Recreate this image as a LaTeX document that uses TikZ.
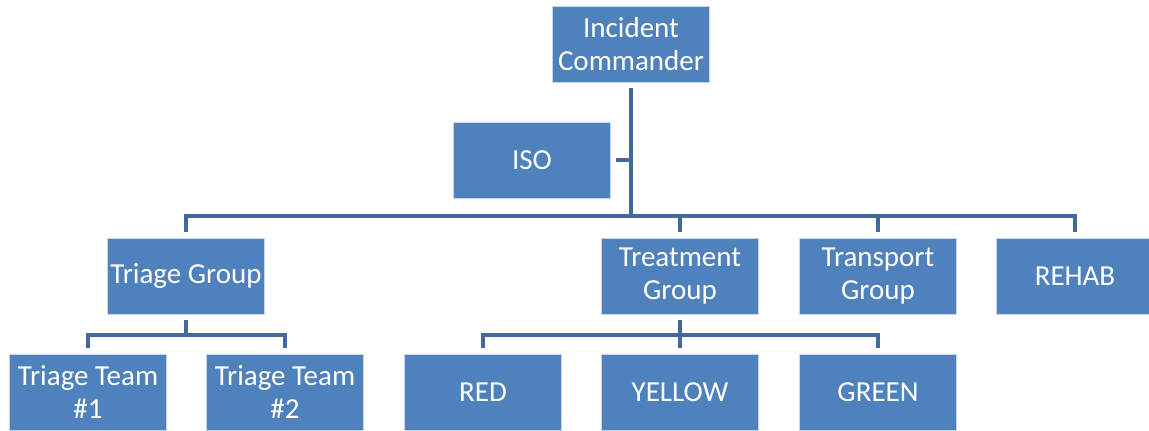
\documentclass[tikz,border=0pt]{standalone}
\usepackage{fontspec}
\setmainfont{Carlito}
\usepackage{tikz}
\usetikzlibrary{positioning, calc}
\definecolor{boxblue}{HTML}{4F81BD}
\definecolor{lineblue}{HTML}{41699B}
\definecolor{edgeblue}{HTML}{C9D7EA}

\begin{document}
\begin{tikzpicture}[x=0.02cm, y=-0.02cm, font=\fontsize{16.5}{18.3}\selectfont,
    unit/.style={draw=edgeblue, line width=0.4pt, fill=boxblue, text=white,
        minimum width=3.14cm, minimum height=1.52cm, align=center, inner sep=1pt},
    link/.style={draw=lineblue, line width=2.8pt}]
        \useasboundingbox (0,0) rectangle (1149,430);

        % Command
        \node[unit] (ic) at (631,44) {Incident\\Commander};
        \node[unit] (iso) at (532,160) {ISO};

        % Groups
        \node[unit] (tri) at (186,276) {Triage Group};
        \node[unit] (treat) at (680,276) {Treatment\\Group};
        \node[unit] (trans) at (878,276) {Transport\\Group};
        \node[unit] (rehab) at (1075,276) {REHAB};

        % Teams and areas
        \node[unit] (tt1) at (88,392) {Triage Team\\\#1};
        \node[unit] (tt2) at (285,392) {Triage Team\\\#2};
        \node[unit] (red) at (483,392) {RED};
        \node[unit] (yellow) at (680,392) {YELLOW};
        \node[unit] (green) at (878,392) {GREEN};

        % Bus lines
        \coordinate (bus) at (631,216);
        \coordinate (tribus) at (186,335);
        \coordinate (treatbus) at (680,335);

        % Connectors
        \draw[link] ([yshift=-0.12cm]ic.south) -- (ic.south |- bus);
        \draw[link] ([xshift=0.1cm]iso.east) -- (iso.east -| bus);
        \draw[link] ([yshift=0.12cm]tri.north) |- (rehab.north |- bus) -- ([yshift=0.12cm]rehab.north);
        \draw[link] (treat.north |- bus) -- ([yshift=0.12cm]treat.north);
        \draw[link] (trans.north |- bus) -- ([yshift=0.12cm]trans.north);

        \draw[link] ([yshift=-0.12cm]tri.south) -- (tribus);
        \draw[link] ([yshift=0.12cm]tt1.north) |- (tt2.north |- tribus) -- ([yshift=0.12cm]tt2.north);

        \draw[link] ([yshift=-0.12cm]treat.south) -- (treatbus);
        \draw[link] ([yshift=0.12cm]red.north) |- (green.north |- treatbus) -- ([yshift=0.12cm]green.north);
        \draw[link] (yellow.north |- treatbus) -- ([yshift=0.12cm]yellow.north);
\end{tikzpicture}
\end{document}
